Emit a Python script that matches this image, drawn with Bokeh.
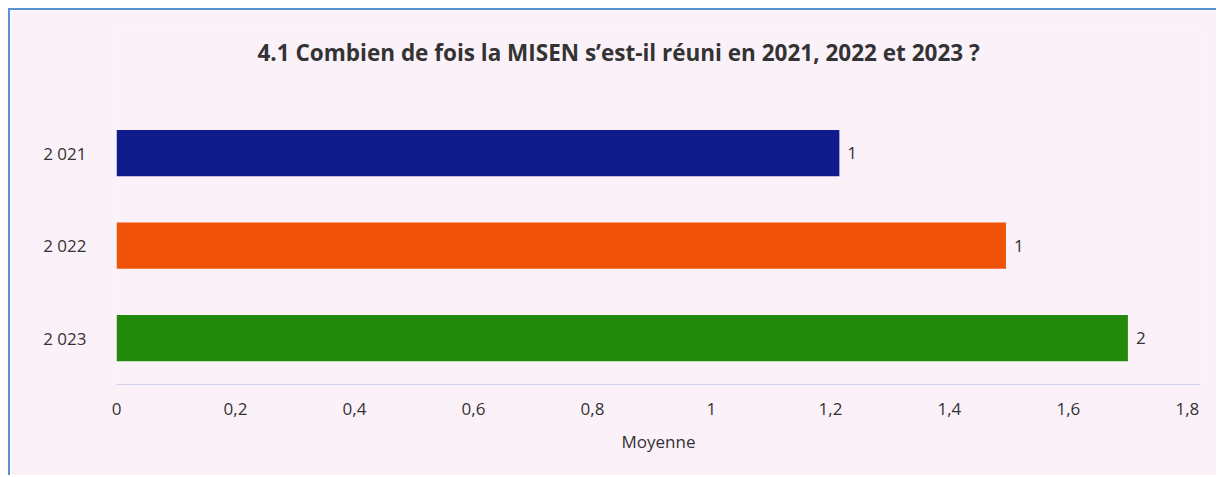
from bokeh.plotting import figure
from bokeh.models import ColumnDataSource, Range1d, Label, CustomJSTickFormatter, FixedTicker
from bokeh.core.properties import value
from bokeh.embed import file_html
from bokeh.resources import INLINE

categories = ["2 021", "2 022", "2 023"]
values = [1.215, 1.495, 1.70]
value_labels = ["1", "1", "2"]
colors = ["#101b8c", "#f05308", "#218a0b"]
x_ticks = [0, 0.2, 0.4, 0.6, 0.8, 1.0, 1.2, 1.4, 1.6, 1.8]
title_text = "4.1 Combien de fois la MISEN s\u2019est-il réuni en 2021, 2022 et 2023 ?"

FONT = "Open Sans"
BG = "#fbf1f9"
TXT = "#333333"

# first category on top: position index counted from the bottom
y_pos = list(range(len(categories)))[::-1]

src = ColumnDataSource(dict(cat=categories, y=y_pos, val=values, lab=value_labels, color=colors))

p = figure(width=1208, height=467, output_backend="svg", toolbar_location=None,
           y_range=Range1d(-0.5, 3.327),
           x_range=Range1d(0, 1.822),
           min_border_left=106, min_border_right=18, min_border_top=20, min_border_bottom=93)

title_label = Label(x=141, y=332, x_units="screen", y_units="screen", text=title_text,
                    text_font=FONT, text_font_size="22.5px", text_font_style="bold",
                    text_color=TXT, text_baseline="middle", text_align="left")
p.add_layout(title_label)

p.hbar(y="y", right="val", left=0, height=0.5, fill_color="color", line_color=None, source=src)
p.text(x="val", y="y", text="lab", x_offset=8, text_baseline="middle", text_align="left",
       text_font=value(FONT), text_font_size="17px", text_color=TXT, source=src)

p.background_fill_color = BG
p.border_fill_color = BG
p.outline_line_color = None
p.xgrid.grid_line_color = None
p.ygrid.grid_line_color = None

p.xaxis.ticker = FixedTicker(ticks=x_ticks)
p.xaxis.formatter = CustomJSTickFormatter(code="return (Math.round(tick*10)/10).toString().replace('.', ',');")
p.xaxis.axis_label = "Moyenne"
p.xaxis.axis_label_text_font = FONT
p.xaxis.axis_label_text_font_size = "17px"
p.xaxis.axis_label_text_font_style = "normal"
p.xaxis.axis_label_text_color = TXT
p.xaxis.axis_label_standoff = 12
p.xaxis.major_label_text_font = FONT
p.xaxis.major_label_text_font_size = "17px"
p.xaxis.major_label_text_color = TXT
p.xaxis.major_label_standoff = 12
p.xaxis.axis_line_color = "#cfd3ea"
p.xaxis.major_tick_line_color = None
p.xaxis.minor_tick_line_color = None

p.yaxis.ticker = FixedTicker(ticks=y_pos)
p.yaxis.major_label_overrides = {yp: c for yp, c in zip(y_pos, categories)}
p.yaxis.major_label_text_font = FONT
p.yaxis.major_label_text_font_size = "17px"
p.yaxis.major_label_text_color = TXT
p.yaxis.major_label_standoff = 24
p.yaxis.axis_line_color = None
p.yaxis.major_tick_line_color = None
p.yaxis.minor_tick_line_color = None

p.styles = {"margin-left": "8px", "margin-top": "8px",
            "border-left": "2px solid #5b8fd6", "border-top": "2px solid #5b8fd6"}

open("out.html", "w").write(file_html(p, INLINE))
